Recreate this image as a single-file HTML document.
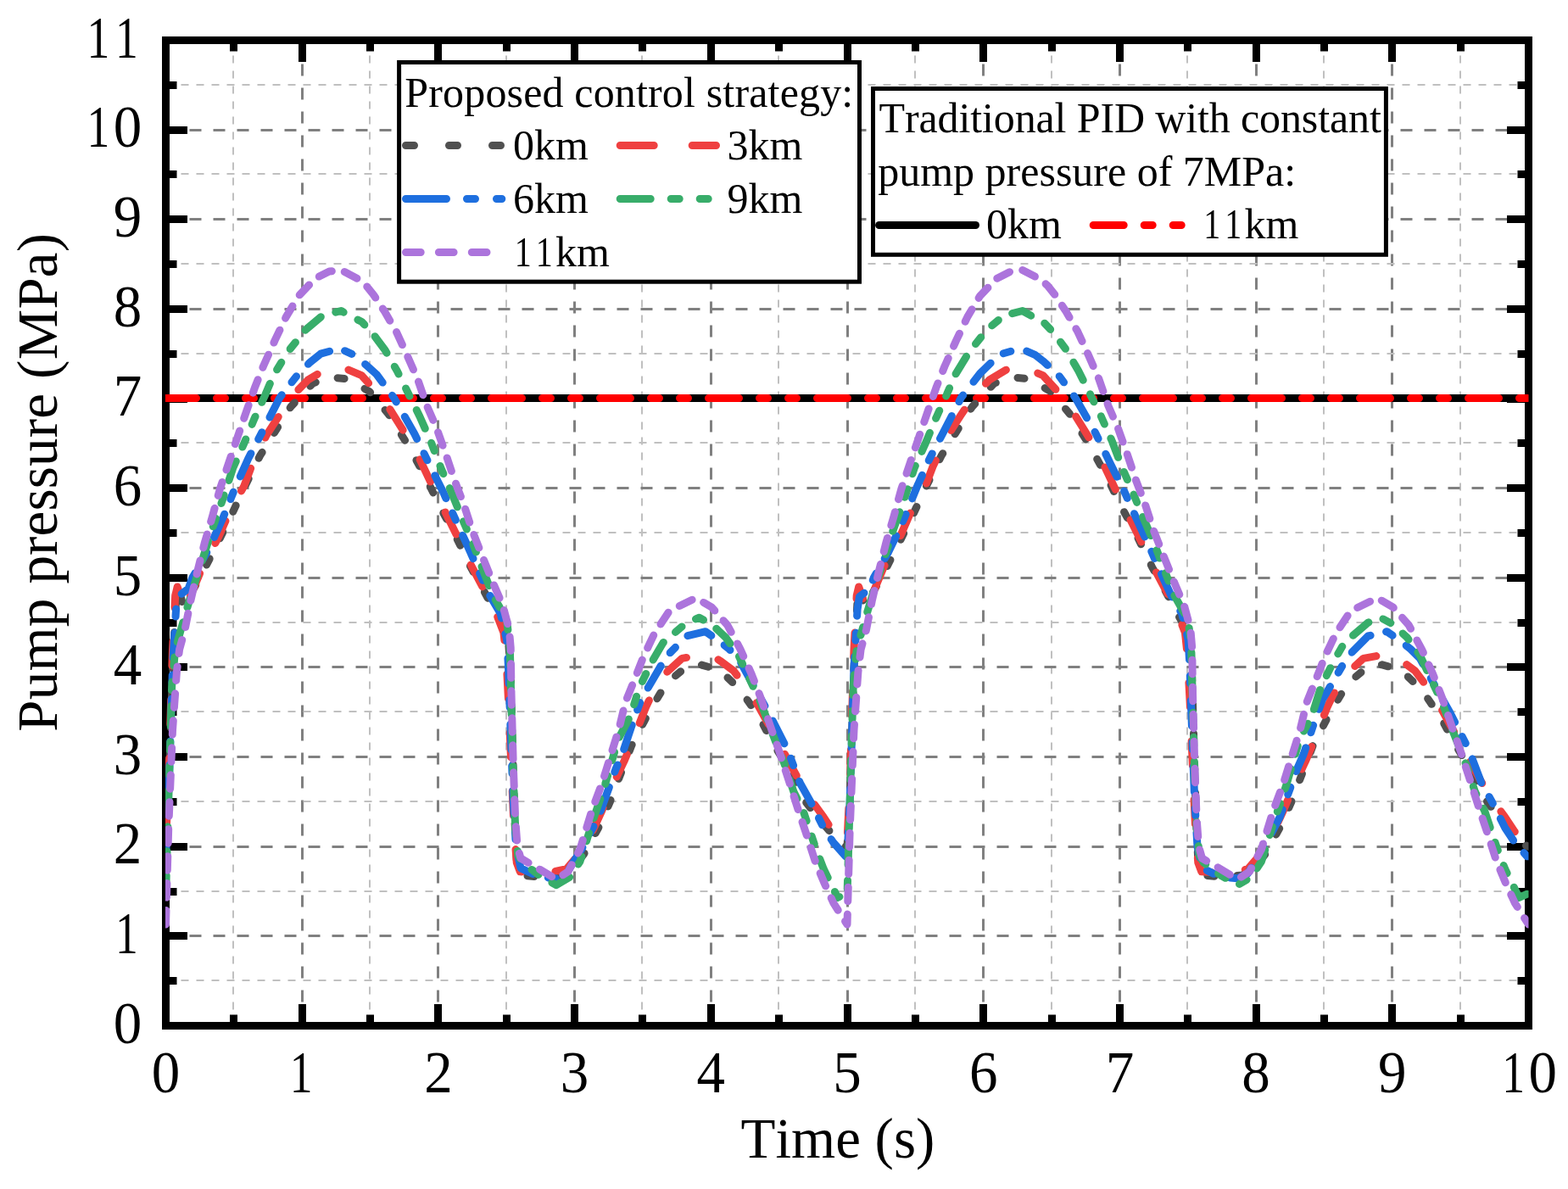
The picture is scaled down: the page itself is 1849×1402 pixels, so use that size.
<!DOCTYPE html><html><head><meta charset="utf-8"><title>Pump pressure</title><style>text{font-kerning:none;font-feature-settings:"kern" 0,"liga" 0}html,body{margin:0;padding:0;background:#fff;width:1849px;height:1402px;overflow:hidden}</style></head><body><svg width="1849" height="1402" viewBox="0 0 1849 1402" style="display:block"><rect width="1849" height="1402" fill="#fff"/><defs><clipPath id="pc"><rect x="195" y="47.5" width="1607.5" height="1162"/></clipPath></defs><g fill="none"><line x1="275" y1="47.5" x2="275" y2="1209.5" stroke="#c0c0c0" stroke-width="2" stroke-dasharray="9 9"/><line x1="356.5" y1="47.5" x2="356.5" y2="1209.5" stroke="#808080" stroke-width="3" stroke-dasharray="14 14"/><line x1="436" y1="47.5" x2="436" y2="1209.5" stroke="#c0c0c0" stroke-width="2" stroke-dasharray="9 9"/><line x1="516.5" y1="47.5" x2="516.5" y2="1209.5" stroke="#808080" stroke-width="3" stroke-dasharray="14 14"/><line x1="597" y1="47.5" x2="597" y2="1209.5" stroke="#c0c0c0" stroke-width="2" stroke-dasharray="9 9"/><line x1="677.5" y1="47.5" x2="677.5" y2="1209.5" stroke="#808080" stroke-width="3" stroke-dasharray="14 14"/><line x1="757" y1="47.5" x2="757" y2="1209.5" stroke="#c0c0c0" stroke-width="2" stroke-dasharray="9 9"/><line x1="838.5" y1="47.5" x2="838.5" y2="1209.5" stroke="#808080" stroke-width="3" stroke-dasharray="14 14"/><line x1="918" y1="47.5" x2="918" y2="1209.5" stroke="#c0c0c0" stroke-width="2" stroke-dasharray="9 9"/><line x1="999.5" y1="47.5" x2="999.5" y2="1209.5" stroke="#808080" stroke-width="3" stroke-dasharray="14 14"/><line x1="1079" y1="47.5" x2="1079" y2="1209.5" stroke="#c0c0c0" stroke-width="2" stroke-dasharray="9 9"/><line x1="1159.5" y1="47.5" x2="1159.5" y2="1209.5" stroke="#808080" stroke-width="3" stroke-dasharray="14 14"/><line x1="1240" y1="47.5" x2="1240" y2="1209.5" stroke="#c0c0c0" stroke-width="2" stroke-dasharray="9 9"/><line x1="1320.5" y1="47.5" x2="1320.5" y2="1209.5" stroke="#808080" stroke-width="3" stroke-dasharray="14 14"/><line x1="1400" y1="47.5" x2="1400" y2="1209.5" stroke="#c0c0c0" stroke-width="2" stroke-dasharray="9 9"/><line x1="1481.5" y1="47.5" x2="1481.5" y2="1209.5" stroke="#808080" stroke-width="3" stroke-dasharray="14 14"/><line x1="1561" y1="47.5" x2="1561" y2="1209.5" stroke="#c0c0c0" stroke-width="2" stroke-dasharray="9 9"/><line x1="1641.5" y1="47.5" x2="1641.5" y2="1209.5" stroke="#808080" stroke-width="3" stroke-dasharray="14 14"/><line x1="1722" y1="47.5" x2="1722" y2="1209.5" stroke="#c0c0c0" stroke-width="2" stroke-dasharray="9 9"/><line x1="195.5" y1="1156" x2="1802.5" y2="1156" stroke="#c0c0c0" stroke-width="2" stroke-dasharray="9 9"/><line x1="195.5" y1="1103.5" x2="1802.5" y2="1103.5" stroke="#808080" stroke-width="3" stroke-dasharray="14 14"/><line x1="195.5" y1="1051" x2="1802.5" y2="1051" stroke="#c0c0c0" stroke-width="2" stroke-dasharray="9 9"/><line x1="195.5" y1="998.5" x2="1802.5" y2="998.5" stroke="#808080" stroke-width="3" stroke-dasharray="14 14"/><line x1="195.5" y1="945" x2="1802.5" y2="945" stroke="#c0c0c0" stroke-width="2" stroke-dasharray="9 9"/><line x1="195.5" y1="892.5" x2="1802.5" y2="892.5" stroke="#808080" stroke-width="3" stroke-dasharray="14 14"/><line x1="195.5" y1="839" x2="1802.5" y2="839" stroke="#c0c0c0" stroke-width="2" stroke-dasharray="9 9"/><line x1="195.5" y1="786.5" x2="1802.5" y2="786.5" stroke="#808080" stroke-width="3" stroke-dasharray="14 14"/><line x1="195.5" y1="734" x2="1802.5" y2="734" stroke="#c0c0c0" stroke-width="2" stroke-dasharray="9 9"/><line x1="195.5" y1="681.5" x2="1802.5" y2="681.5" stroke="#808080" stroke-width="3" stroke-dasharray="14 14"/><line x1="195.5" y1="628" x2="1802.5" y2="628" stroke="#c0c0c0" stroke-width="2" stroke-dasharray="9 9"/><line x1="195.5" y1="575.5" x2="1802.5" y2="575.5" stroke="#808080" stroke-width="3" stroke-dasharray="14 14"/><line x1="195.5" y1="522" x2="1802.5" y2="522" stroke="#c0c0c0" stroke-width="2" stroke-dasharray="9 9"/><line x1="195.5" y1="470.5" x2="1802.5" y2="470.5" stroke="#808080" stroke-width="3" stroke-dasharray="14 14"/><line x1="195.5" y1="417" x2="1802.5" y2="417" stroke="#c0c0c0" stroke-width="2" stroke-dasharray="9 9"/><line x1="195.5" y1="364.5" x2="1802.5" y2="364.5" stroke="#808080" stroke-width="3" stroke-dasharray="14 14"/><line x1="195.5" y1="311" x2="1802.5" y2="311" stroke="#c0c0c0" stroke-width="2" stroke-dasharray="9 9"/><line x1="195.5" y1="258.5" x2="1802.5" y2="258.5" stroke="#808080" stroke-width="3" stroke-dasharray="14 14"/><line x1="195.5" y1="205" x2="1802.5" y2="205" stroke="#c0c0c0" stroke-width="2" stroke-dasharray="9 9"/><line x1="195.5" y1="153.5" x2="1802.5" y2="153.5" stroke="#808080" stroke-width="3" stroke-dasharray="14 14"/><line x1="195.5" y1="100" x2="1802.5" y2="100" stroke="#c0c0c0" stroke-width="2" stroke-dasharray="9 9"/></g><path d="M195.5 1209.5V1184M195.5 47.5V73M275.5 1209.5V1196.5M275.5 47.5V60.5M356.5 1209.5V1184M356.5 47.5V73M436.5 1209.5V1196.5M436.5 47.5V60.5M516.5 1209.5V1184M516.5 47.5V73M597.5 1209.5V1196.5M597.5 47.5V60.5M677.5 1209.5V1184M677.5 47.5V73M757.5 1209.5V1196.5M757.5 47.5V60.5M838.5 1209.5V1184M838.5 47.5V73M918.5 1209.5V1196.5M918.5 47.5V60.5M999.5 1209.5V1184M999.5 47.5V73M1079.5 1209.5V1196.5M1079.5 47.5V60.5M1159.5 1209.5V1184M1159.5 47.5V73M1240.5 1209.5V1196.5M1240.5 47.5V60.5M1320.5 1209.5V1184M1320.5 47.5V73M1400.5 1209.5V1196.5M1400.5 47.5V60.5M1481.5 1209.5V1184M1481.5 47.5V73M1561.5 1209.5V1196.5M1561.5 47.5V60.5M1641.5 1209.5V1184M1641.5 47.5V73M1722.5 1209.5V1196.5M1722.5 47.5V60.5M1802.5 1209.5V1184M1802.5 47.5V73M195.5 1209.5H221M1802.5 1209.5H1777M195.5 1156.5H208.5M1802.5 1156.5H1789.5M195.5 1103.5H221M1802.5 1103.5H1777M195.5 1051.5H208.5M1802.5 1051.5H1789.5M195.5 998.5H221M1802.5 998.5H1777M195.5 945.5H208.5M1802.5 945.5H1789.5M195.5 892.5H221M1802.5 892.5H1777M195.5 839.5H208.5M1802.5 839.5H1789.5M195.5 786.5H221M1802.5 786.5H1777M195.5 734.5H208.5M1802.5 734.5H1789.5M195.5 681.5H221M1802.5 681.5H1777M195.5 628.5H208.5M1802.5 628.5H1789.5M195.5 575.5H221M1802.5 575.5H1777M195.5 522.5H208.5M1802.5 522.5H1789.5M195.5 470.5H221M1802.5 470.5H1777M195.5 417.5H208.5M1802.5 417.5H1789.5M195.5 364.5H221M1802.5 364.5H1777M195.5 311.5H208.5M1802.5 311.5H1789.5M195.5 258.5H221M1802.5 258.5H1777M195.5 205.5H208.5M1802.5 205.5H1789.5M195.5 153.5H221M1802.5 153.5H1777M195.5 100.5H208.5M1802.5 100.5H1789.5M195.5 47.5H221M1802.5 47.5H1777" stroke="#000" stroke-width="9" fill="none"/><rect x="195.5" y="47.5" width="1607" height="1162" fill="none" stroke="#000" stroke-width="9"/><g clip-path="url(#pc)" fill="none" stroke-linecap="round" stroke-linejoin="round"><line x1="195.5" y1="469.5" x2="1802.5" y2="469.5" stroke="#000" stroke-width="9"/><line x1="195.5" y1="469.5" x2="1802.5" y2="469.5" stroke="#f00" stroke-width="9" stroke-linecap="round" stroke-dasharray="36 24 10 24 10 24"/><path d="M195.5,998.2 198.7,945.4 203.5,787 207.6,707.7 210,692.9 216.4,715.1 237.3,678.2 252.9,647.5 270.9,611.6 287.6,575.7 306.4,537.7 326.1,506 342.9,479.6 368.7,452.1 388.3,444.7 409.6,446.8 435.6,461.6 457.9,488 481.2,525 501.6,562 520.6,601 534.6,626.4 555,668.6 569.8,695.1 586.5,726.7 595.6,742.6 599.7,757.4 602.1,797.5 604.5,882 606.9,966.5 609.3,1014.1 613.3,1032 637.4,1034.1 661.5,1032 677.6,1021.5 688.8,1006.7 705.7,976 719.4,945.4 732.2,911.6 744.8,878.9 765.2,839.8 785.6,806 809.7,785.9 826.4,783.8 848.7,790.1 872.9,813.4 895,845.1 911.9,876.7 934.2,913.7 950.8,946.5 966.9,966.5 982.9,985.6 993.5,996.1 999,998.2 1002.2,945.4 1007,787 1011.1,707.7 1013.5,692.9 1019.9,715.1 1040.8,678.2 1056.4,647.5 1074.4,611.6 1091.1,575.7 1109.9,537.7 1129.6,506 1146.4,479.6 1172.2,452.1 1191.8,444.7 1213.1,446.8 1239.1,461.6 1261.4,488 1284.7,525 1305.1,562 1324.1,601 1338.1,626.4 1358.5,668.6 1373.3,695.1 1390,726.7 1399.1,742.6 1403.2,757.4 1405.6,797.5 1408,882 1410.4,966.5 1412.8,1014.1 1416.8,1032 1440.9,1034.1 1465,1032 1481.1,1021.5 1492.3,1006.7 1509.2,976 1522.9,945.4 1535.7,911.6 1548.3,878.9 1568.7,839.8 1589.1,806 1613.2,785.9 1629.9,783.8 1652.2,790.1 1676.4,813.4 1698.5,845.1 1715.4,876.7 1737.7,913.7 1754.3,946.5 1770.4,966.5 1786.4,985.6 1797,996.1 1802.5,998.2" stroke="#505050" stroke-width="9" stroke-dasharray="8 27"/><path d="M195.5,991.9 198.7,924.3 203.5,765.8 206.7,702.4 209.2,691.9 218,718.3 238.7,668.6 257.9,632.7 272.2,600 287.6,573.6 296.4,550.3 314.1,513.4 329.8,489.1 344.6,466.9 363.3,447.9 389.1,432.5 401.2,432 426.3,442.6 453.4,472.2 484.9,522.9 494.2,539.8 512.7,578.9 538.3,630.6 555,665.5 569.8,693.5 582.8,717.2 593.9,745.8 596.8,773.2 599.7,829.2 602.9,903.2 606.1,977.1 609.3,1017.2 613.3,1027.8 643.9,1029.9 668,1024.6 689.8,999.3 709.7,956 721.8,927.5 735.8,897.9 744.8,876.7 761.5,834 768.9,818.6 783.8,794.9 804.2,776.4 835.7,770.6 850.5,780.1 865.3,791.2 882,813.4 893.1,830.3 918.6,876.7 941.6,919 952.7,938 971.2,963.4 982.3,980.3 992.6,988.7 999,991.9 1002.2,924.3 1007,765.8 1010.2,702.4 1012.7,691.9 1021.5,718.3 1042.2,668.6 1061.4,632.7 1075.7,600 1091.1,573.6 1099.9,550.3 1117.6,513.4 1133.3,489.1 1148.1,466.9 1166.8,447.9 1192.6,432.5 1204.7,432 1229.8,442.6 1256.9,472.2 1288.4,522.9 1297.7,539.8 1316.2,578.9 1341.8,630.6 1358.5,665.5 1373.3,693.5 1386.3,717.2 1397.4,745.8 1400.3,773.2 1403.2,829.2 1406.4,903.2 1409.6,977.1 1412.8,1017.2 1416.8,1027.8 1447.4,1029.9 1471.5,1024.6 1493.3,999.3 1513.2,956 1525.3,927.5 1539.3,897.9 1548.3,876.7 1565,834 1572.4,818.6 1587.3,794.9 1607.7,776.4 1639.2,770.6 1654,780.1 1668.8,791.2 1685.5,813.4 1696.6,830.3 1722.1,876.7 1745.1,919 1756.2,938 1774.7,963.4 1785.8,980.3 1796.1,988.7 1802.5,991.9" stroke="#ef4040" stroke-width="9" stroke-dasharray="29 40"/><path d="M195.5,1009.8 198.7,945.4 203.5,787 207.6,718.3 210,703.5 222.2,694 226.8,681.3 243.7,651.7 252.9,632.7 263,610.5 277.1,575.7 292.7,540.8 313.1,501.7 329.8,469 352,440.5 365,427.8 378.1,417.2 400.2,410.9 416.9,418.3 426.4,425.7 444.1,441.5 464.5,469 488.6,511.2 506.1,547.2 522,578.9 540,619 553.1,647.5 566.1,677.1 577.2,701.4 590.2,723.6 597.6,754.2 599.3,782.7 602.1,860.9 605.3,945.4 608.5,998.2 614,1023.6 635.8,1034.1 655.9,1035.7 668,1029.9 687.9,997.7 705.7,963.4 725.8,907.4 733.7,889.4 744.8,856.1 755.9,825 767.1,806 785.6,774.3 809.7,750 832,744.7 848.7,756.3 859.8,765.3 870.9,776.4 886.5,804.9 906.1,839.8 928.6,884.1 943.4,923.2 956.4,946.5 971.2,976 982.3,992.9 997.2,1009.8 999,1009.8 1002.2,945.4 1007,787 1011.1,718.3 1013.5,703.5 1025.7,694 1030.3,681.3 1047.2,651.7 1056.4,632.7 1066.5,610.5 1080.6,575.7 1096.2,540.8 1116.6,501.7 1133.3,469 1155.5,440.5 1168.5,427.8 1181.6,417.2 1203.7,410.9 1220.4,418.3 1229.9,425.7 1247.6,441.5 1268,469 1292.1,511.2 1309.6,547.2 1325.5,578.9 1343.5,619 1356.6,647.5 1369.6,677.1 1380.7,701.4 1393.7,723.6 1401.1,754.2 1402.8,782.7 1405.6,860.9 1408.8,945.4 1412,998.2 1417.5,1023.6 1439.3,1034.1 1459.4,1035.7 1471.5,1029.9 1491.4,997.7 1509.2,963.4 1529.3,907.4 1537.2,889.4 1548.3,856.1 1559.4,825 1570.6,806 1589.1,774.3 1613.2,750 1635.5,744.7 1652.2,756.3 1663.3,765.3 1674.4,776.4 1690,804.9 1709.6,839.8 1732.1,884.1 1746.9,923.2 1759.9,946.5 1774.7,976 1785.8,992.9 1800.7,1009.8 1802.5,1009.8" stroke="#1e6fdf" stroke-width="9" stroke-dasharray="30 19 9 20"/><path d="M195.5,1056.3 198.7,945.4 202.7,808.1 206.7,765.8 219,722.5 227.6,694 240,656 248.9,627.4 261.7,591.5 274.9,551.4 287.3,523.9 300.3,492.8 313.1,464.8 322.5,442.6 339.2,415.1 360.5,388.7 380,372.3 402.2,366.5 415.2,373.9 426.3,379.2 438.5,391.9 454.2,413 468.2,437.3 483,466.9 495,491.2 508.1,520.8 520.1,552.4 529.9,574.6 543.7,608.4 557.7,641.2 567.8,667.6 580.9,701.4 597.6,731 601.3,763.7 602.9,829.2 605.3,913.7 607.7,977.1 610.9,1008.8 615.9,1017.2 635.8,1032 655.9,1043.7 672,1034.1 684,1015.7 697.8,971.8 713.8,924.3 729,871.5 743.5,844 754.1,810.2 768.9,780.1 781.9,757.9 809.7,734.1 824.5,728.3 839.4,736.3 856.1,752.1 870.9,772.7 883.9,800.7 897,828.2 908,857.7 924.9,900.5 936,933.8 947.1,956 954.5,978.2 961.9,1000.3 971.2,1024.6 987.8,1058.4 997.4,1054.2 999,1056.3 1002.2,945.4 1006.2,808.1 1010.2,765.8 1022.5,722.5 1031.1,694 1043.5,656 1052.4,627.4 1065.2,591.5 1078.4,551.4 1090.8,523.9 1103.8,492.8 1116.6,464.8 1126,442.6 1142.7,415.1 1164,388.7 1183.5,372.3 1205.7,366.5 1218.7,373.9 1229.8,379.2 1242,391.9 1257.7,413 1271.7,437.3 1286.5,466.9 1298.5,491.2 1311.6,520.8 1323.6,552.4 1333.4,574.6 1347.2,608.4 1361.2,641.2 1371.3,667.6 1384.4,701.4 1401.1,731 1404.8,763.7 1406.4,829.2 1408.8,913.7 1411.2,977.1 1414.4,1008.8 1419.4,1017.2 1439.3,1032 1459.4,1043.7 1475.5,1034.1 1487.5,1015.7 1501.3,971.8 1517.3,924.3 1532.5,871.5 1547,844 1557.6,810.2 1572.4,780.1 1585.4,757.9 1613.2,734.1 1628,728.3 1642.9,736.3 1659.6,752.1 1674.4,772.7 1687.4,800.7 1700.5,828.2 1711.5,857.7 1728.4,900.5 1739.5,933.8 1750.6,956 1758,978.2 1765.4,1000.3 1774.7,1024.6 1791.3,1058.4 1800.9,1054.2 1802.5,1056.3" stroke="#38ad6a" stroke-width="9" stroke-dasharray="24 18.5 10 19 10 18.5"/><path d="M195.5,1090.1 198.7,977.1 203.5,860.9 208.4,792.2 211.6,765.8 218,742.6 224.7,708.8 232.5,675 241.3,640.1 250.3,609.5 259.3,576.7 269.6,546.1 280.8,513.4 291,483.8 300.3,457.4 310.4,432 324.1,401.4 337.2,373.9 352,349.1 371.6,328.5 388.3,320 402.2,318.5 423.7,329.6 431.9,336.9 440.4,347.5 453.4,367.1 467.2,390.8 479.3,417.2 492.3,446.8 503.4,478.5 514.5,503.9 525.7,535.5 536.3,567.2 546.5,593.6 556.8,625.3 568.8,656 580.9,686.1 592.9,714.1 600.3,741.5 602.2,763.7 603,817.6 605.3,903.2 607.7,966.5 610.1,998.2 614,1012 633.9,1023.6 655.9,1036.8 669.9,1027.8 684,1001.4 697.8,956 709.7,924.3 719.9,891.5 729.8,859.8 737.4,828.2 747.7,802.8 758.8,774.3 771.8,746.8 789.3,720.4 820.6,705.1 839.4,716.2 857.9,737.3 872.9,765.3 886,794.4 897.1,822.9 908.2,855.6 919.3,887.3 930.4,921.1 941.6,956 950.8,983.4 961.1,1015.1 971.7,1040.5 982.9,1064.8 994.2,1082.7 999,1090.1 1002.2,977.1 1007,860.9 1011.9,792.2 1015.1,765.8 1021.5,742.6 1028.2,708.8 1036,675 1044.8,640.1 1053.8,609.5 1062.8,576.7 1073.1,546.1 1084.3,513.4 1094.5,483.8 1103.8,457.4 1113.9,432 1127.6,401.4 1140.7,373.9 1155.5,349.1 1175.1,328.5 1191.8,320 1205.7,318.5 1227.2,329.6 1235.4,336.9 1243.9,347.5 1256.9,367.1 1270.7,390.8 1282.8,417.2 1295.8,446.8 1306.9,478.5 1318,503.9 1329.2,535.5 1339.8,567.2 1350,593.6 1360.3,625.3 1372.3,656 1384.4,686.1 1396.4,714.1 1403.8,741.5 1405.7,763.7 1406.5,817.6 1408.8,903.2 1411.2,966.5 1413.6,998.2 1417.5,1012 1437.4,1023.6 1459.4,1036.8 1473.4,1027.8 1487.5,1001.4 1501.3,956 1513.2,924.3 1523.4,891.5 1533.3,859.8 1540.9,828.2 1551.2,802.8 1562.3,774.3 1575.3,746.8 1592.8,720.4 1624.1,705.1 1642.9,716.2 1661.4,737.3 1676.4,765.3 1689.5,794.4 1700.6,822.9 1711.7,855.6 1722.8,887.3 1733.9,921.1 1745.1,956 1754.3,983.4 1764.6,1015.1 1775.2,1040.5 1786.4,1064.8 1797.7,1082.7 1802.5,1090.1" stroke="#ac74dc" stroke-width="9" stroke-dasharray="16.5 15.5"/></g><g font-family="Liberation Serif, Times New Roman, serif" font-size="67" fill="#000"><text transform="translate(133.70 1229.70) scale(1 1.04)">0</text><text transform="translate(150.06 1124.06) scale(0.8 1.04) translate(-17.67 0)">1</text><text transform="translate(133.70 1018.43) scale(1 1.04)">2</text><text transform="translate(133.70 912.79) scale(1 1.04)">3</text><text transform="translate(133.70 807.16) scale(1 1.04)">4</text><text transform="translate(133.70 701.52) scale(1 1.04)">5</text><text transform="translate(133.70 595.88) scale(1 1.04)">6</text><text transform="translate(133.70 490.25) scale(1 1.04)">7</text><text transform="translate(133.70 384.61) scale(1 1.04)">8</text><text transform="translate(133.70 278.98) scale(1 1.04)">9</text><text transform="translate(116.56 173.34) scale(0.8 1.04) translate(-17.67 0)">1</text><text transform="translate(133.70 173.34) scale(1 1.04)">0</text><text transform="translate(116.56 67.70) scale(0.8 1.04) translate(-17.67 0)">1</text><text transform="translate(150.06 67.70) scale(0.8 1.04) translate(-17.67 0)">1</text><text transform="translate(178.75 1288.00) scale(1 1.04)">0</text><text transform="translate(355.81 1288.00) scale(0.8 1.04) translate(-17.67 0)">1</text><text transform="translate(500.15 1288.00) scale(1 1.04)">2</text><text transform="translate(660.85 1288.00) scale(1 1.04)">3</text><text transform="translate(821.55 1288.00) scale(1 1.04)">4</text><text transform="translate(982.25 1288.00) scale(1 1.04)">5</text><text transform="translate(1142.95 1288.00) scale(1 1.04)">6</text><text transform="translate(1303.65 1288.00) scale(1 1.04)">7</text><text transform="translate(1464.35 1288.00) scale(1 1.04)">8</text><text transform="translate(1625.05 1288.00) scale(1 1.04)">9</text><text transform="translate(1785.36 1288.00) scale(0.8 1.04) translate(-17.67 0)">1</text><text transform="translate(1802.50 1288.00) scale(1 1.04)">0</text><text transform="translate(987.9 1364.8) scale(1 1.02)" text-anchor="middle">Time (s)</text><text transform="translate(66.5 862.7) rotate(-90) scale(1 1.02)" textLength="587.8" lengthAdjust="spacing">Pump pressure (MPa)</text></g><rect x="470.6" y="73.5" width="542.9" height="258.7" fill="#fff" stroke="#000" stroke-width="5"/><path d="M478.5 171.5H591.8" stroke="#505050" stroke-width="9" stroke-linecap="round" stroke-dasharray="10 41" fill="none"/><path d="M731.2 171.5H844.5" stroke="#ef4040" stroke-width="9" stroke-linecap="round" stroke-dasharray="40 45" fill="none"/><path d="M478.5 234.5H591.8" stroke="#1e6fdf" stroke-width="9" stroke-linecap="round" stroke-dasharray="48 24 10 25" fill="none"/><path d="M731.2 234.5H844.5" stroke="#38ad6a" stroke-width="9" stroke-linecap="round" stroke-dasharray="36 24 10 24 10 24" fill="none"/><path d="M478.5 297.5H591.8" stroke="#ac74dc" stroke-width="9" stroke-linecap="round" stroke-dasharray="17.7 21.2" fill="none"/><g font-family="Liberation Serif, Times New Roman, serif" font-size="50" fill="#000"><text x="477.3" y="125.5" textLength="528.9" lengthAdjust="spacing">Proposed control strategy:</text><text x="605" y="187.7">0km</text><text x="857.4" y="187.7">3km</text><text x="605" y="250.8">6km</text><text x="857.4" y="250.8">9km</text><text transform="translate(617.21 313.50) scale(0.8 1.0) translate(-13.18 0)">1</text><text transform="translate(642.21 313.50) scale(0.8 1.0) translate(-13.18 0)">1</text><text x="655.00" y="313.50">km</text></g><rect x="1029.5" y="104.5" width="604.9" height="195.8" fill="#fff" stroke="#000" stroke-width="5"/><path d="M1036.6 265.5H1150.5" stroke="#000" stroke-width="9" stroke-linecap="round" fill="none"/><path d="M1289.2 265.5H1404" stroke="#f00" stroke-width="9" stroke-linecap="round" stroke-dasharray="36 24 10 24 10 24" fill="none"/><g font-family="Liberation Serif, Times New Roman, serif" font-size="50" fill="#000"><text x="1036.6" y="156" textLength="592.2" lengthAdjust="spacing">Traditional PID with constant</text><text x="1035.2" y="219.2">pump pressure of 7MPa:</text><text x="1163.1" y="281.3">0km</text><text transform="translate(1429.81 281.30) scale(0.8 1.0) translate(-13.18 0)">1</text><text transform="translate(1454.81 281.30) scale(0.8 1.0) translate(-13.18 0)">1</text><text x="1467.60" y="281.30">km</text></g></svg></body></html>
